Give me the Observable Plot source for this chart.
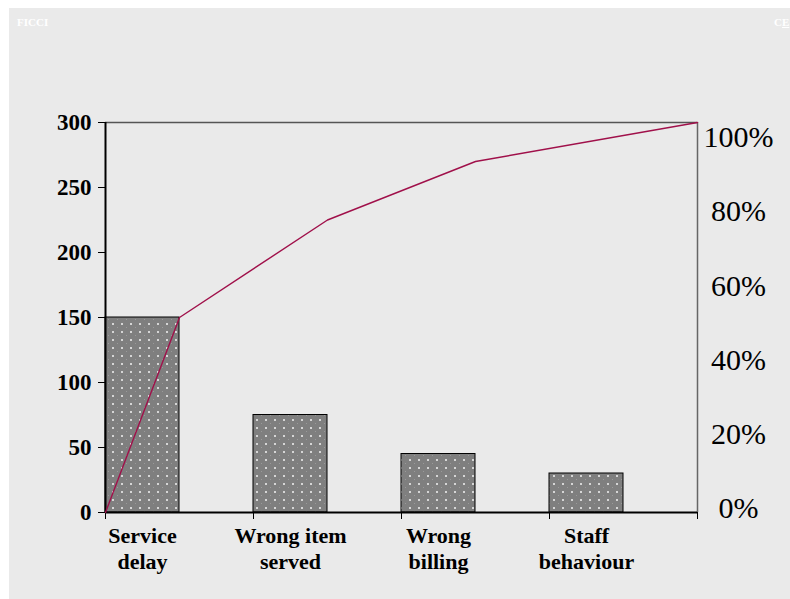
<!DOCTYPE html>
<html>
<head>
<meta charset="utf-8">
<script src="https://cdn.jsdelivr.net/npm/d3@7"></script>
<script src="https://cdn.jsdelivr.net/npm/@observablehq/plot@0.6"></script>
<style>
  html, body { margin: 0; padding: 0; background: #ffffff; }
  #wrap { position: relative; width: 790px; height: 599px; overflow: hidden; }
  #chart { position: absolute; left: 9px; top: 8px; }
  #chart svg { background: #eaeaea; display: block; }
  .corner { position: absolute; top: 16px; color: #ffffff; font: bold 11px "Liberation Serif", "Times New Roman", serif; }
</style>
</head>
<body>
<div id="wrap">
  <div id="chart"></div>
  <div class="corner" style="left:17px">FICCI</div>
  <div class="corner" style="left:774px">C<u>E</u></div>
</div>
<script>
// Complaint categories and counts (Pareto analysis)
const categories = ["Service delay", "Wrong item served", "Wrong billing", "Staff behaviour"];
const categoryLabels = ["Service\ndelay", "Wrong item\nserved", "Wrong\nbilling", "Staff\nbehaviour"];
const complaints = [150, 75, 45, 30];
const countTicks = [0, 50, 100, 150, 200, 250, 300];
const percentTicks = [0, 20, 40, 60, 80, 100];

const countMax = 300;          // 100% on the right axis lines up with this count
const barWidth = 0.5;          // bars fill the left half of each category slot
const serif = "'Liberation Serif', 'Times New Roman', serif";

const total = d3.sum(complaints);
const cumulative = Array.from(d3.cumsum(complaints));

const bars = categories.map((c, i) => ({category: c, i, value: complaints[i]}));

// Cumulative percentage line: starts at the origin, passes the right edge of
// each bar, and finishes at the right side of the frame.
const paretoPoints = [{x: 0, pct: 0}].concat(
  cumulative.map((v, i) => ({
    x: i === categories.length - 1 ? categories.length : i + barWidth,
    pct: (v / total) * 100
  }))
);
const pctToCount = (p) => (p / 100) * countMax;

// Right-hand percentage labels sit in a slightly narrower band than the frame
const pctLabelY = (p) => 3 + p * 2.855;

const plot = Plot.plot({
  width: 781,
  height: 591,
  marginLeft: 96,
  marginRight: 93,
  marginTop: 114,
  marginBottom: 87,
  style: {background: "#eaeaea", fontFamily: serif, color: "#000"},
  x: {type: "linear", domain: [0, categories.length]},
  y: {domain: [0, countMax]},
  marks: [
    Plot.rect(bars, {
      x1: "i",
      x2: (d) => d.i + barWidth,
      y1: 0,
      y2: "value",
      fill: "url(#dots)",
      stroke: "#000",
      strokeWidth: 1
    }),
    Plot.ruleY([countMax], {stroke: "#555", strokeWidth: 1.5}),
    Plot.ruleX([categories.length], {stroke: "#666", strokeWidth: 1.5}),
    Plot.axisY({
      ticks: countTicks,
      tickSize: 7,
      tickPadding: 7,
      label: null,
      fontSize: 23,
      fontWeight: "bold",
      fontFamily: serif,
      stroke: "#000"
    }),
    Plot.ruleX([0], {stroke: "#000", strokeWidth: 2}),
    Plot.axisX({
      ticks: d3.range(categories.length + 1),
      tickSize: 7,
      tickFormat: () => "",
      label: null,
      stroke: "#000"
    }),
    Plot.ruleY([0], {stroke: "#000", strokeWidth: 2}),
    Plot.line(paretoPoints, {
      x: "x",
      y: (d) => pctToCount(d.pct),
      stroke: "#a0104a",
      strokeWidth: 1.4
    }),
    Plot.text(categoryLabels, {
      x: (d, i) => i + barWidth / 2,
      y: 0,
      text: (d) => d,
      lineAnchor: "top",
      dy: 12,
      lineHeight: 1.18,
      fontSize: 22,
      fontWeight: "bold",
      fontFamily: serif,
      fill: "#000"
    }),
    Plot.text(percentTicks, {
      x: categories.length,
      y: (p) => pctLabelY(p),
      text: (p) => `${p}%`,
      dx: 41,
      textAnchor: "middle",
      fontSize: 30,
      fontFamily: serif,
      fill: "#000"
    })
  ]
});

// Dotted fill used by the bars
const ns = "http://www.w3.org/2000/svg";
const defs = document.createElementNS(ns, "defs");
defs.innerHTML = `
  <pattern id="dots" width="9" height="8" patternUnits="userSpaceOnUse">
    <rect width="9" height="8" fill="#7f7f7f"></rect>
    <rect x="4" y="3" width="2" height="2" fill="#d6d6d6"></rect>
    <rect x="0" y="7" width="1" height="1" fill="#9a9a9a"></rect>
  </pattern>`;
plot.insertBefore(defs, plot.firstChild);

document.getElementById("chart").appendChild(plot);
</script>
</body>
</html>
